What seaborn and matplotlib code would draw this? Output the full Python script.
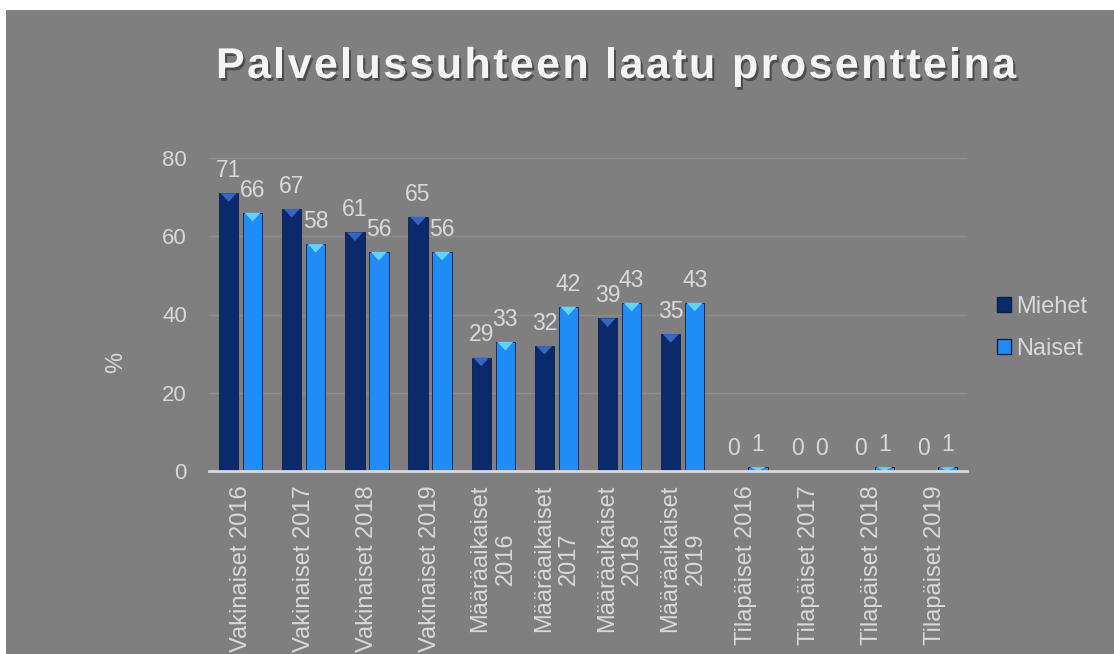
import matplotlib
matplotlib.use("Agg")
import matplotlib.pyplot as plt
import matplotlib.patheffects as pe
from matplotlib.patches import Rectangle, Polygon, Patch
import seaborn as sns
import pandas as pd

categories = ["Vakinaiset 2016", "Vakinaiset 2017", "Vakinaiset 2018", "Vakinaiset 2019",
              "Määräaikaiset\n2016", "Määräaikaiset\n2017", "Määräaikaiset\n2018", "Määräaikaiset\n2019",
              "Tilapäiset 2016", "Tilapäiset 2017", "Tilapäiset 2018", "Tilapäiset 2019"]
miehet = [71, 67, 61, 65, 29, 32, 39, 35, 0, 0, 0, 0]
naiset = [66, 58, 56, 56, 33, 42, 43, 43, 1, 0, 1, 1]
series = ["Miehet", "Naiset"]
title = "Palvelussuhteen laatu prosentteina"
y_label = "%"
y_ticks = [0, 20, 40, 60, 80]

NAVY = "#0b2a6c"
LIGHT = "#1f8cf8"
BEVEL = {NAVY: "#3566c6", LIGHT: "#62d2ff"}
BG = "#7f7f7f"
TXT = "#d9d9d9"

df = pd.DataFrame({
    "cat": categories * 2,
    "val": miehet + naiset,
    "ser": [series[0]] * len(categories) + [series[1]] * len(categories),
})

sns.set_theme(style="white")
plt.rcParams["font.family"] = ["Liberation Sans", "DejaVu Sans"]

W, H = 1114, 654
fig = plt.figure(figsize=(W / 100, H / 100), dpi=100)
fig.patch.set_facecolor("white")
fig.patches.append(Rectangle((6 / W, 0), 1, 1 - 10 / H, transform=fig.transFigure,
                             facecolor=BG, edgecolor="none", zorder=-10))

left, right = 209 / W, 967 / W
bottom, top = 1 - 471 / H, 1 - 158 / H
ax = fig.add_axes([left, bottom, right - left, top - bottom])
ax.set_facecolor("none")

sns.barplot(data=df, x="cat", y="val", hue="ser", palette=[NAVY, LIGHT],
            width=0.76, gap=0.2, legend=False, ax=ax, saturation=1,
            edgecolor="#0a1f4a", linewidth=0.6, zorder=3)

ax.set_ylim(0, 80)
ax.set_yticks(y_ticks)
ax.set_xlim(-0.5, len(categories) - 0.5)
ax.yaxis.grid(True, color="#8d8d8d", lw=1, zorder=0)
ax.xaxis.grid(False)
for s in ["top", "right", "left"]:
    ax.spines[s].set_visible(False)
ax.spines["bottom"].set_color(TXT)
ax.spines["bottom"].set_linewidth(2)
ax.spines["bottom"].set_zorder(4)
ax.set_xlabel("")
ax.set_ylabel("")
ax.tick_params(axis="y", length=0, labelsize=16, labelcolor=TXT, pad=16)
ax.tick_params(axis="x", length=0, labelsize=17, labelcolor=TXT, pad=10)
ax.set_xticks(range(len(categories)))
ax.set_xticklabels(categories, rotation=90, ha="center", va="top", multialignment="center")

# bevel tops and labels
for cont in ax.containers:
    for p in cont.patches:
        h = p.get_height()
        x0 = p.get_x()
        w = p.get_width()
        col = matplotlib.colors.to_hex(p.get_facecolor())
        bev = BEVEL.get(col, "#ffffff")
        d = min(2.2, h)
        if h > 0:
            ax.add_patch(Polygon([(x0 + w * 0.08, h), (x0 + w * 0.92, h), (x0 + w / 2, h - d)],
                                 closed=True, facecolor=bev, edgecolor="none", zorder=4))
    ax.bar_label(cont, fmt="%d", padding=8, color=TXT, fontsize=16.5)

fig.text(116 / W, 1 - 362 / H, y_label, rotation=90, ha="center", va="center",
         color=TXT, fontsize=17)

# letter-spaced title with shadow
renderer = fig.canvas.get_renderer()
fs = 31
def width_of(s):
    t = fig.text(0, 0, s, fontsize=fs, fontweight="bold")
    wpx = t.get_window_extent(renderer).width
    t.remove()
    return wpx

bar_w = width_of("|")
prefix = [width_of(title[:i] + "|") - bar_w if i > 0 else 0 for i in range(len(title))]
full = width_of(title)
target = 800
spacing = (target - full) / (len(title) - 1)
x0 = 216
for i, ch in enumerate(title):
    if ch == " ":
        continue
    fig.text((x0 + prefix[i] + i * spacing) / W, 1 - 78 / H, ch, fontsize=fs,
             fontweight="bold", color="#f4f4f4", ha="left", va="baseline",
             path_effects=[pe.SimplePatchShadow(offset=(1.5, -2), shadow_rgbFace="black", alpha=0.4),
                           pe.Normal()])

handles = [Patch(facecolor=NAVY, edgecolor="#0a1f4a"), Patch(facecolor=LIGHT, edgecolor="#0a1f4a")]
fig.legend(handles, series, loc="center left", bbox_to_anchor=(997 / W, 1 - 328 / H),
           frameon=False, fontsize=17, labelcolor=TXT, handlelength=0.6, handleheight=0.6,
           handletextpad=0.2, labelspacing=0.85, borderpad=0, borderaxespad=0)

fig.savefig("out.png", dpi=100, facecolor=fig.get_facecolor())
